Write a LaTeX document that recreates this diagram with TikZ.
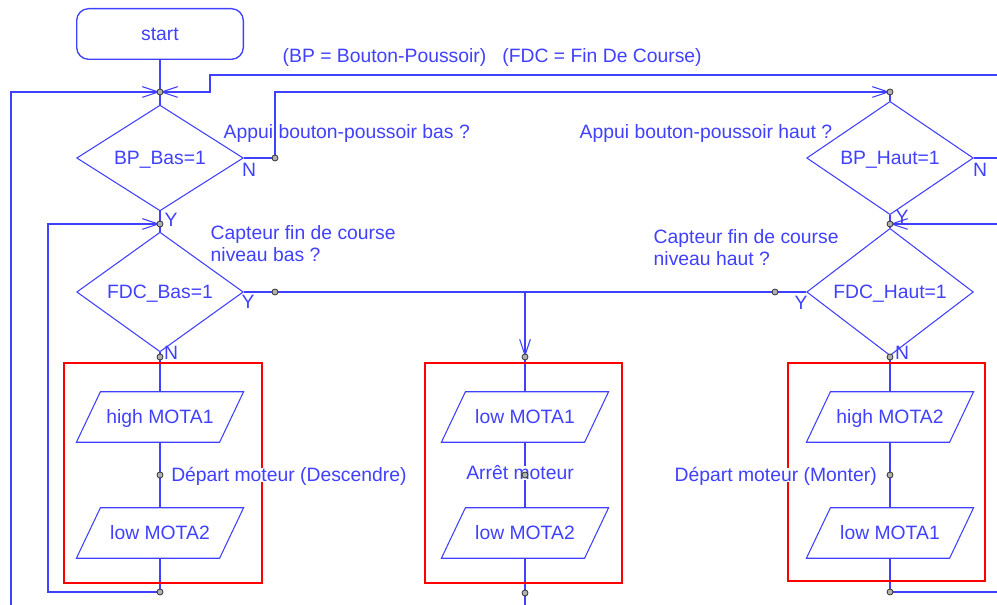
\documentclass[tikz,border=0pt]{standalone}
\usepackage{fontspec}
\setmainfont{Liberation Sans}
\usetikzlibrary{shapes.geometric,arrows.meta}
\definecolor{flowblue}{RGB}{64,64,255}
\definecolor{boxred}{RGB}{255,0,0}

\begin{document}
\begin{tikzpicture}[x=0.75pt,y=-0.75pt,
  every node/.style={font=\fontsize{14.5}{16.5}\selectfont, text=flowblue},
  line/.style={text height=10.4pt, text depth=0pt},
  wire/.style={draw=flowblue, line width=1pt},
  arr/.style={-{Straight Barb[length=12pt,width=8pt,line width=0.8pt]}},
  term/.style={line, draw=flowblue, line width=1pt, rounded corners=9pt,
    minimum width=125pt, minimum height=38pt},
  test/.style={line, draw=flowblue, line width=0.8pt, diamond, inner sep=0pt,
    minimum width=125pt, minimum height=73.5pt},
  io/.style={line, inner sep=0pt, minimum width=107pt, minimum height=37.5pt,
    append after command={\pgfextra{\draw[flowblue, line width=0.8pt]
      ([xshift=9pt]\tikzlastnode.north west) -- ([xshift=9pt]\tikzlastnode.north east)
      -- ([xshift=-9pt]\tikzlastnode.south east) -- ([xshift=-9pt]\tikzlastnode.south west)
      -- cycle;}}},
  frame/.style={draw=boxred, line width=2pt},
  dot/.style={circle, draw=black!80, fill=gray!60, line width=0.6pt,
    inner sep=0pt, minimum size=4.5pt},
  note/.style={line, fill=white, inner sep=0pt}
]
  \clip (0,0) rectangle (997,605);

  % Start and tests
  \node[term] (start) at (160,34) {start};
  \node[test] (bpb) at (160,158) {BP\_Bas=1};
  \node[test] (fdcb) at (160,292) {FDC\_Bas=1};
  \node[test] (bph) at (890,158) {BP\_Haut=1};
  \node[test] (fdch) at (890,292) {FDC\_Haut=1};

  % Outputs
  \node[io] (hm1) at (160,417) {high MOTA1};
  \node[io] (lm2a) at (160,533) {low MOTA2};
  \node[io] (lm1a) at (525,417) {low MOTA1};
  \node[io] (lm2b) at (525,533) {low MOTA2};
  \node[io] (hm2) at (890,417) {high MOTA2};
  \node[io] (lm1b) at (890,533) {low MOTA1};

  % Junctions
  \coordinate (j0) at (160,92);
  \coordinate (j1) at (160,224);
  \coordinate (j2) at (160,357);
  \coordinate (j3) at (160,475);
  \coordinate (j4) at (160,592);
  \coordinate (j5) at (275,158);
  \coordinate (j6) at (275,292);
  \coordinate (j7) at (890,92);
  \coordinate (j8) at (890,224);
  \coordinate (j9) at (775,292);
  \coordinate (j10) at (890,357);
  \coordinate (j11) at (890,475);
  \coordinate (j12) at (890,592);
  \coordinate (j13) at (525,357);
  \coordinate (j14) at (525,475);
  \coordinate (j15) at (525,593);
  \coordinate (tee) at (525,292);

  % Free ends at the border
  \coordinate (edgeL) at (11,605);
  \coordinate (edgeT) at (997,75);
  \coordinate (edgeN) at (997,158);
  \coordinate (edgeY) at (997,224);
  \coordinate (edgeB) at (997,592);
  \coordinate (edgeM) at (525,605);

  % Left column
  \draw[wire] (start) -- (j0) -- (bpb);
  \draw[wire] (bpb) -- (j1) -- (fdcb);
  \draw[wire] (fdcb) -- (j2) -- (hm1) -- (j3) -- (lm2a) -- (j4);
  \draw[wire,arr] (edgeL) |- (j0);
  \draw[wire,arr] (edgeT) -| (210,92) -- (j0);
  \draw[wire,arr] (j4) -- ++(-112,0) |- (j1);

  % Middle column
  \draw[wire] (fdcb.east) -- (j6) -- (j9) -- (fdch.west);
  \draw[wire,arr] (tee) -- (j13);
  \draw[wire] (j13) -- (lm1a) -- (j14) -- (lm2b) -- (j15) -- (edgeM);

  % Right column
  \draw[wire,arr] (bpb.east) -- (j5) |- (j7);
  \draw[wire] (j7) -- (bph);
  \draw[wire] (bph.east) -- (edgeN);
  \draw[wire] (bph) -- (j8) -- (fdch);
  \draw[wire,arr] (edgeY) -- (j8);
  \draw[wire] (fdch) -- (j10) -- (hm2) -- (j11) -- (lm1b) -- (j12) -- (edgeB);

  % Red boxes
  \draw[frame] (64,363) rectangle (262,583);
  \draw[frame] (425,363) rectangle (622,583);
  \draw[frame] (788,363) rectangle (985,581);

  % Labels
  \node[line, anchor=west] (legend) at (278,56) {(BP = Bouton-Poussoir)\ \ \ (FDC = Fin De Course)};
  \node[line, anchor=west] (qbpb) at (219,132) {Appui bouton-poussoir bas ?};
  \node[line, anchor=west] (qbph) at (575,132) {Appui bouton-poussoir haut ?};
  \node[anchor=west, align=left] (qfdcb) at (206,244) {Capteur fin de course\\niveau bas ?};
  \node[anchor=west, align=left] (qfdch) at (649,248) {Capteur fin de course\\niveau haut ?};
  \node[line] (nbpb) at (249,170) {N};
  \node[line] (ybpb) at (171,220) {Y};
  \node[line] (yfdcb) at (248,302) {Y};
  \node[line] (nfdcb) at (171,353) {N};
  \node[line] (nbph) at (980,170) {N};
  \node[line] (ybph) at (902,217) {Y};
  \node[line] (yfdch) at (801,303) {Y};
  \node[line] (nfdch) at (902,353) {N};
  \node[note, anchor=west] (down) at (171,475) {Départ moteur (Descendre)};
  \node[note] (stop) at (520,473) {Arrêt moteur};
  \node[note, anchor=east] (up) at (877,475) {Départ moteur (Monter)};

  % Junction dots
  \foreach \j in {j0,j1,j2,j3,j4,j5,j6,j7,j8,j9,j10,j11,j12,j13,j14,j15}
    \node[dot] at (\j) {};
\end{tikzpicture}
\end{document}
